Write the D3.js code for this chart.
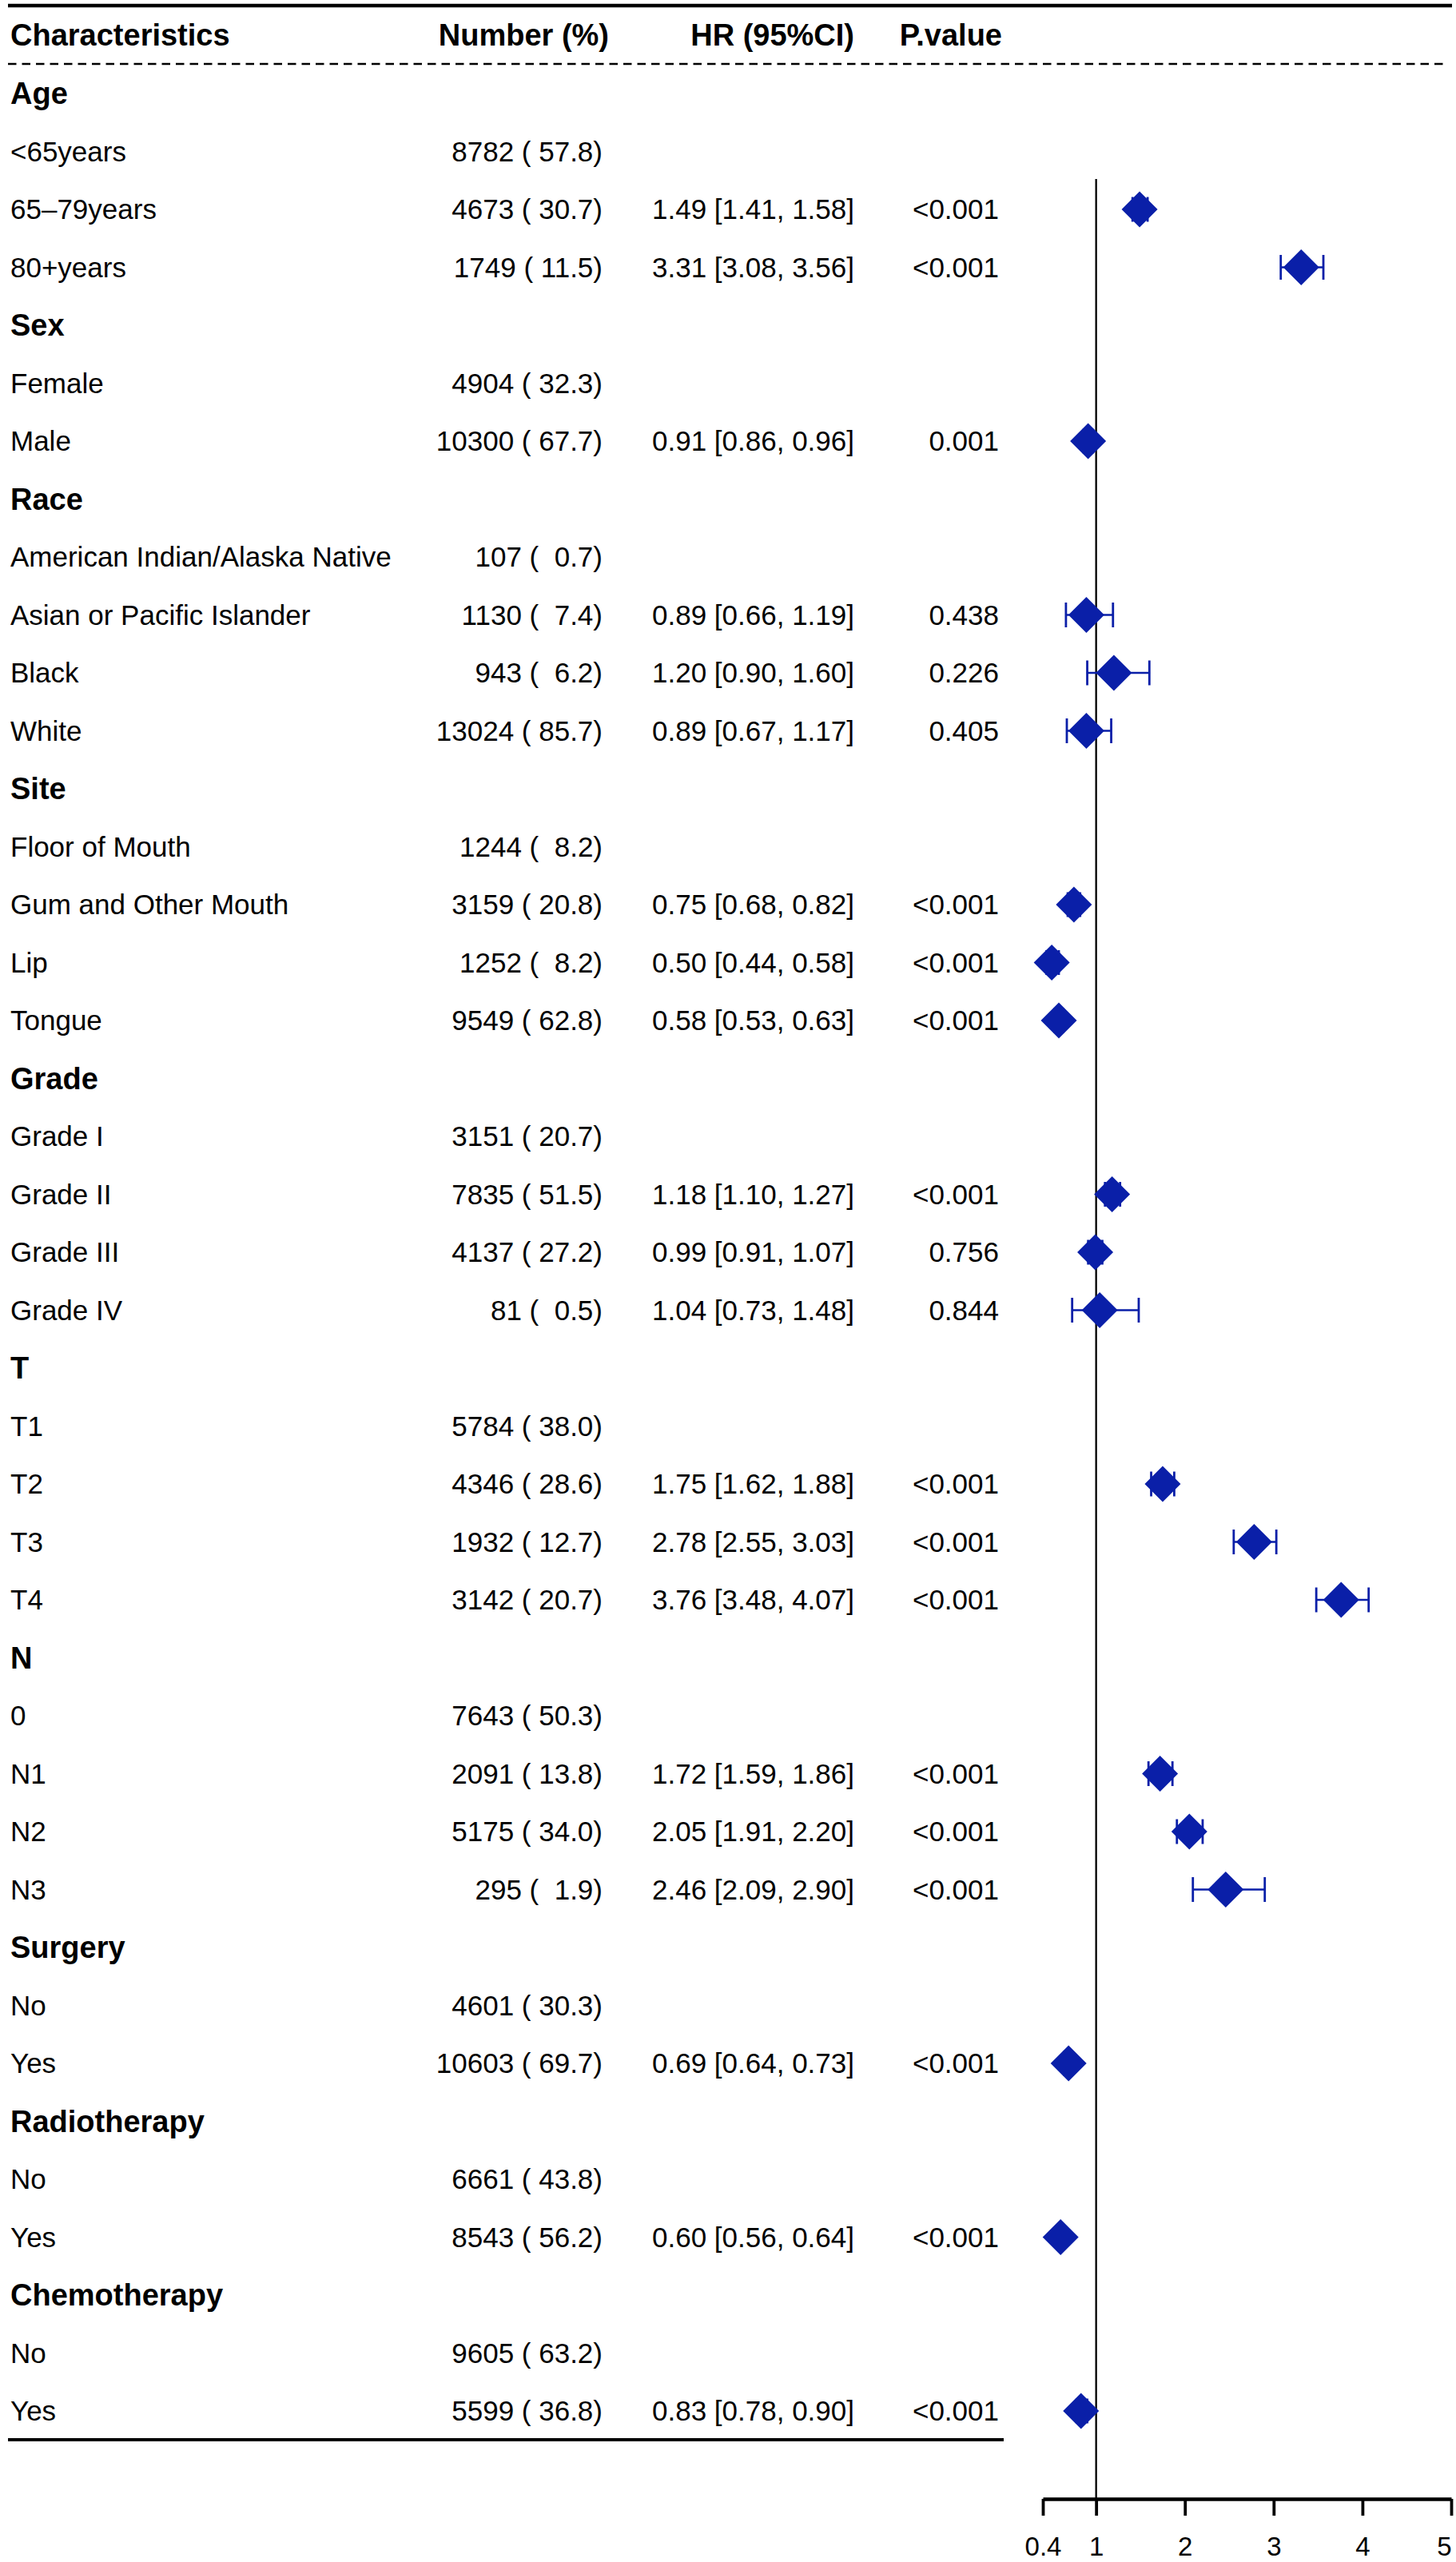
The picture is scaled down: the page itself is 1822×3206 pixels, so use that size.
<!DOCTYPE html>
<html>
<head>
<meta charset="utf-8">
<script src="https://cdn.jsdelivr.net/npm/d3@7"></script>
<style>
    body { margin: 0; background: #fff; }
    svg { display: block; }
    text { font-family: "Liberation Sans", Arial, Helvetica, sans-serif; fill: #000; white-space: pre; }
</style>
</head>
<body>
<div id="chart"></div>
<script>
// table data, one entry per row (group headers have no numbers)
const labels = [
    "Age", "<65years", "65\u201379years", "80+years",
    "Sex", "Female", "Male",
    "Race", "American Indian/Alaska Native", "Asian or Pacific Islander", "Black", "White",
    "Site", "Floor of Mouth", "Gum and Other Mouth", "Lip", "Tongue",
    "Grade", "Grade I", "Grade II", "Grade III", "Grade IV",
    "T", "T1", "T2", "T3", "T4",
    "N", "0", "N1", "N2", "N3",
    "Surgery", "No", "Yes",
    "Radiotherapy", "No", "Yes",
    "Chemotherapy", "No", "Yes"
];
const isGroup = [
    1, 0, 0, 0,
    1, 0, 0,
    1, 0, 0, 0, 0,
    1, 0, 0, 0, 0,
    1, 0, 0, 0, 0,
    1, 0, 0, 0, 0,
    1, 0, 0, 0, 0,
    1, 0, 0,
    1, 0, 0,
    1, 0, 0
];
const counts = [
    null, 8782, 4673, 1749,
    null, 4904, 10300,
    null, 107, 1130, 943, 13024,
    null, 1244, 3159, 1252, 9549,
    null, 3151, 7835, 4137, 81,
    null, 5784, 4346, 1932, 3142,
    null, 7643, 2091, 5175, 295,
    null, 4601, 10603,
    null, 6661, 8543,
    null, 9605, 5599
];
const percents = [
    null, 57.8, 30.7, 11.5,
    null, 32.3, 67.7,
    null, 0.7, 7.4, 6.2, 85.7,
    null, 8.2, 20.8, 8.2, 62.8,
    null, 20.7, 51.5, 27.2, 0.5,
    null, 38.0, 28.6, 12.7, 20.7,
    null, 50.3, 13.8, 34.0, 1.9,
    null, 30.3, 69.7,
    null, 43.8, 56.2,
    null, 63.2, 36.8
];
const hr = [
    null, null, 1.49, 3.31,
    null, null, 0.91,
    null, null, 0.89, 1.20, 0.89,
    null, null, 0.75, 0.50, 0.58,
    null, null, 1.18, 0.99, 1.04,
    null, null, 1.75, 2.78, 3.76,
    null, null, 1.72, 2.05, 2.46,
    null, null, 0.69,
    null, null, 0.60,
    null, null, 0.83
];
const lower = [
    null, null, 1.41, 3.08,
    null, null, 0.86,
    null, null, 0.66, 0.90, 0.67,
    null, null, 0.68, 0.44, 0.53,
    null, null, 1.10, 0.91, 0.73,
    null, null, 1.62, 2.55, 3.48,
    null, null, 1.59, 1.91, 2.09,
    null, null, 0.64,
    null, null, 0.56,
    null, null, 0.78
];
const upper = [
    null, null, 1.58, 3.56,
    null, null, 0.96,
    null, null, 1.19, 1.60, 1.17,
    null, null, 0.82, 0.58, 0.63,
    null, null, 1.27, 1.07, 1.48,
    null, null, 1.88, 3.03, 4.07,
    null, null, 1.86, 2.20, 2.90,
    null, null, 0.73,
    null, null, 0.64,
    null, null, 0.90
];
const pValues = [
    "", "", "<0.001", "<0.001",
    "", "", "0.001",
    "", "", "0.438", "0.226", "0.405",
    "", "", "<0.001", "<0.001", "<0.001",
    "", "", "<0.001", "0.756", "0.844",
    "", "", "<0.001", "<0.001", "<0.001",
    "", "", "<0.001", "<0.001", "<0.001",
    "", "", "<0.001",
    "", "", "<0.001",
    "", "", "<0.001"
];
const headers = ["Characteristics", "Number (%)", "HR (95%CI)", "P.value"];
const xTicks = [0.4, 1, 2, 3, 4, 5];
const refValue = 1;

// styling variables
const width = 1822;
const height = 3206;
const bodySize = 35;
const boldSize = 38;
const tickFont = 33;
const markColor = "#0a1fa8";
const diamondHalf = 22.5;
const capHalf = 15.5;
const tableLeft = 10;
const tableRight = 1256;
const firstRowY = 117;
const lastRowY = 3017;
const headerBaseline = 57;
const dashY = 80;
const topLineY = 7;
const bottomLineY = 3053;
const axisY = 3127;
const refTop = 224;

// column anchors
const colLabelX = 13;
const colNumRight = 754;
const colHrRight = 1069;
const colPRight = 1250;
const headerRight = [null, 762, 1069, 1254];

const rows = labels.map((d, i) => ({
    label: d,
    group: isGroup[i] === 1,
    n: counts[i],
    pct: percents[i],
    hr: hr[i],
    lo: lower[i],
    hi: upper[i],
    p: pValues[i],
    i: i
}));

const svg = d3.select("#chart").append("svg")
    .attr("width", width)
    .attr("height", height);

const x = d3.scaleLinear()
    .domain([0.4, 5])
    .range([1305, 1816]);

const y = d3.scalePoint()
    .domain(d3.range(rows.length))
    .range([firstRowY, lastRowY]);

// rules round the table

svg.append("line")
    .attr("x1", tableLeft).attr("x2", 1817)
    .attr("y1", topLineY).attr("y2", topLineY)
    .attr("stroke", "#000")
    .attr("stroke-width", 4.5);

svg.append("line")
    .attr("x1", tableLeft).attr("x2", 1811)
    .attr("y1", dashY).attr("y2", dashY)
    .attr("stroke", "#000")
    .attr("stroke-width", 2.5)
    .attr("stroke-dasharray", "10.5,7");

svg.append("line")
    .attr("x1", tableLeft).attr("x2", tableRight)
    .attr("y1", bottomLineY).attr("y2", bottomLineY)
    .attr("stroke", "#000")
    .attr("stroke-width", 4);

// header

const headerX = [colLabelX, headerRight[1], headerRight[2], headerRight[3]];

svg.append("g")
    .selectAll("text")
    .data(headers)
    .join("text")
    .attr("x", (d, i) => headerX[i])
    .attr("y", headerBaseline)
    .attr("text-anchor", (d, i) => i === 0 ? "start" : "end")
    .style("font-size", boldSize + "px")
    .style("font-weight", "bold")
    .text(d => d);

// table body

const body = svg.append("g").attr("class", "table-body");

body.selectAll(".row-label")
    .data(rows)
    .join("text")
    .attr("class", "row-label")
    .attr("x", colLabelX)
    .attr("y", d => y(d.i) + (d.group ? 13 : 12.3))
    .style("font-size", d => (d.group ? boldSize : bodySize) + "px")
    .style("font-weight", d => d.group ? "bold" : "normal")
    .text(d => d.label);

const valueRows = rows.filter(d => d.n !== null);

body.selectAll(".row-num")
    .data(valueRows)
    .join("text")
    .attr("class", "row-num")
    .attr("x", colNumRight)
    .attr("y", d => y(d.i) + 12.3)
    .attr("text-anchor", "end")
    .style("font-size", bodySize + "px")
    .text(d => `${d.n} (${d.pct.toFixed(1).padStart(5, " ")})`);

const estRows = rows.filter(d => d.hr !== null);

body.selectAll(".row-hr")
    .data(estRows)
    .join("text")
    .attr("class", "row-hr")
    .attr("x", colHrRight)
    .attr("y", d => y(d.i) + 12.3)
    .attr("text-anchor", "end")
    .style("font-size", bodySize + "px")
    .text(d => `${d.hr.toFixed(2)} [${d.lo.toFixed(2)}, ${d.hi.toFixed(2)}]`);

body.selectAll(".row-p")
    .data(estRows)
    .join("text")
    .attr("class", "row-p")
    .attr("x", colPRight)
    .attr("y", d => y(d.i) + 12.3)
    .attr("text-anchor", "end")
    .style("font-size", bodySize + "px")
    .text(d => d.p);

// forest panel

const forest = svg.append("g").attr("class", "forest");

forest.append("line")
    .attr("x1", x(refValue)).attr("x2", x(refValue))
    .attr("y1", refTop).attr("y2", axisY)
    .attr("stroke", "#000")
    .attr("stroke-width", 2.3);

const est = forest.selectAll(".est")
    .data(estRows)
    .join("g")
    .attr("class", "est")
    .attr("transform", d => `translate(0 ${y(d.i)})`);

est.append("line")
    .attr("x1", d => x(d.lo)).attr("x2", d => x(d.hi))
    .attr("stroke", markColor)
    .attr("stroke-width", 2.6);

est.selectAll(".cap")
    .data(d => [d.lo, d.hi])
    .join("line")
    .attr("class", "cap")
    .attr("x1", d => x(d)).attr("x2", d => x(d))
    .attr("y1", -capHalf).attr("y2", capHalf)
    .attr("stroke", markColor)
    .attr("stroke-width", 2.8);

est.append("path")
    .attr("d", d => {
        const cx = x(d.hr);
        return `M${cx},${-diamondHalf}L${cx + diamondHalf},0L${cx},${diamondHalf}L${cx - diamondHalf},0Z`;
    })
    .attr("fill", markColor);

// x axis

const xAxis = svg.append("g")
    .attr("class", "x-axis")
    .attr("transform", `translate(0 ${axisY})`)
    .call(d3.axisBottom(x)
        .tickValues(xTicks)
        .tickFormat(d3.format("~g"))
        .tickSize(21)
        .tickSizeOuter(0)
        .tickPadding(27));

xAxis.select(".domain")
    .attr("stroke", "#000")
    .attr("stroke-width", 4.5);

xAxis.selectAll(".tick line")
    .attr("stroke", "#000")
    .attr("stroke-width", 3.8);

// last label sits at the page edge, keep it inside
xAxis.selectAll(".tick text")
    .attr("fill", "#000")
    .attr("text-anchor", (d, i) => i === xTicks.length - 1 ? "end" : "middle")
    .style("font-size", tickFont + "px")
    .style("font-family", "\"Liberation Sans\", Arial, Helvetica, sans-serif");
</script>
</body>
</html>
